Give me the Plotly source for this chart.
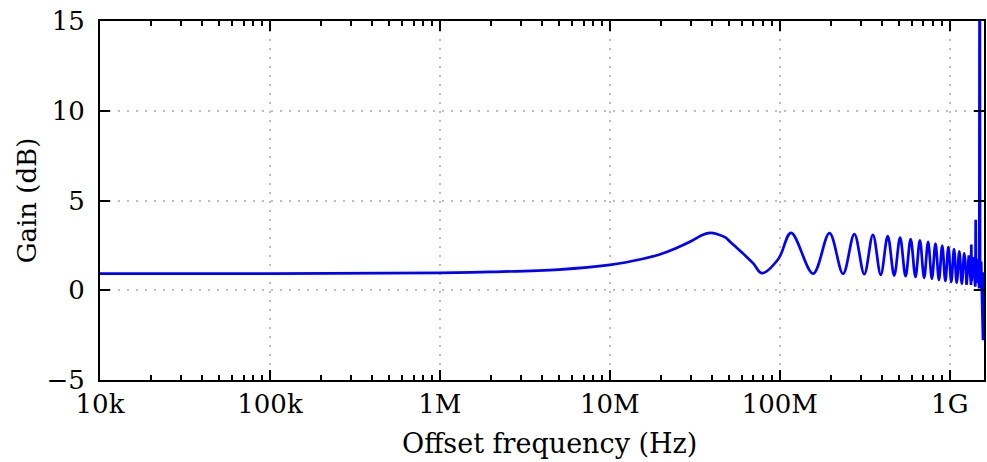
import numpy as np
import plotly.graph_objects as go

# offset frequency (MHz) and gain (dB)
freq_mhz = [
    0.01, 0.1, 1.0, 2.0, 5.0, 10.0, 15.5, 19.4, 24.3, 30.4, 35.0, 39.0, 43.0,
    47.8, 51.0, 55.0, 62.0, 70.0, 78.3, 98.0, 116.5, 157.0, 196.0, 235.5, 274.5, 314.0,
    353.0, 392.5, 431.5, 471.0, 510.0, 549.5, 588.5, 628.0, 667.0, 706.5,
    745.5, 785.0, 824.0, 863.5, 902.5, 942.0, 981.0, 1020.5, 1059.5, 1099.0,
    1138.0, 1177.5, 1216.5, 1256.0,
    1295.0, 1334.0, 1339.0, 1345.0, 1373.5, 1413.0, 1421.0, 1428.0, 1452.0,
    1491.5, 1500.0, 1508.0, 1530.5, 1569.0, 1590.0,
]
gain_db = [
    0.93, 0.93, 0.97, 1.02, 1.15, 1.41, 1.74, 1.98, 2.33, 2.76, 3.08, 3.2, 3.12,
    2.94, 2.70, 2.42, 1.97, 1.48, 0.95, 1.74, 3.2, 0.93, 3.18, 0.92, 3.13, 0.9,
    3.09, 0.86, 3.02, 0.82, 2.93, 0.78, 2.85, 0.74, 2.78, 0.69,
    2.70, 0.64, 2.60, 0.58, 2.49, 0.52, 2.40, 0.47, 2.29, 0.42,
    2.17, 0.37, 2.05, 0.31,
    1.95, 0.3, 2.55, 0.5, 1.85, 0.2, 3.93, 0.4, 1.75,
    0.1, 25.0, 0.3, 1.6, -2.78, 1.0,
]

x_ticks = [1e4, 1e5, 1e6, 1e7, 1e8, 1e9]
x_tick_text = ["10k", "100k", "1M", "10M", "100M", "1G"]
y_ticks = [-5, 0, 5, 10, 15]

freq_hz = np.array(freq_mhz) * 1e6
gain = np.array(gain_db)
# smooth part up to 1.256 GHz, the spiky tail drawn straight
split = freq_mhz.index(1256.0)

font = dict(family="DejaVu Serif", size=26, color="black")

fig = go.Figure()
fig.add_trace(go.Scatter(
    x=freq_hz[:split + 1], y=gain[:split + 1], mode="lines",
    line=dict(color="#0000ff", width=2.7, shape="spline", smoothing=1.0),
    showlegend=False, hoverinfo="skip",
))
fig.add_trace(go.Scatter(
    x=freq_hz[split:], y=gain[split:], mode="lines",
    line=dict(color="#0000ff", width=2.7),
    showlegend=False, hoverinfo="skip",
))

grid = dict(showgrid=True, gridcolor="#bdbdbd", gridwidth=1.5, griddash="2px,7px")

fig.update_xaxes(
    type="log", range=[4, np.log10(1.59e9)],
    tickmode="array", tickvals=x_ticks, ticktext=x_tick_text,
    ticks="inside", ticklen=10, tickwidth=1.5, tickcolor="black",
    minor=dict(ticks="inside", ticklen=5, tickwidth=1.5, tickcolor="black",
               dtick="D1", showgrid=False),
    showline=True, linecolor="black", linewidth=2, mirror="allticks",
    tickfont=font, zeroline=False, **grid,
)
fig.update_yaxes(
    range=[-5, 15], tickmode="array", tickvals=y_ticks,
    ticks="inside", ticklen=10, tickwidth=1.5, tickcolor="black",
    showline=True, linecolor="black", linewidth=2, mirror="allticks",
    title=dict(text="Gain (dB)", font=font, standoff=2),
    tickfont=font, zeroline=False, ticklabelstandoff=8, **grid,
)

# x-axis title placed as an annotation (sits a little right of centre)
fig.add_annotation(
    text="Offset frequency (Hz)", font=dict(font, size=27), showarrow=False,
    xref="paper", yref="paper", x=0.509, y=0, yshift=-63,
    xanchor="center", yanchor="middle",
)

fig.update_layout(
    width=987, height=462,
    margin=dict(l=100, r=1, t=21, b=82),
    plot_bgcolor="white", paper_bgcolor="white",
    font=font,
)

fig.write_html("out.html", config={"displayModeBar": False},
               post_script="document.body.style.margin='0px';")
